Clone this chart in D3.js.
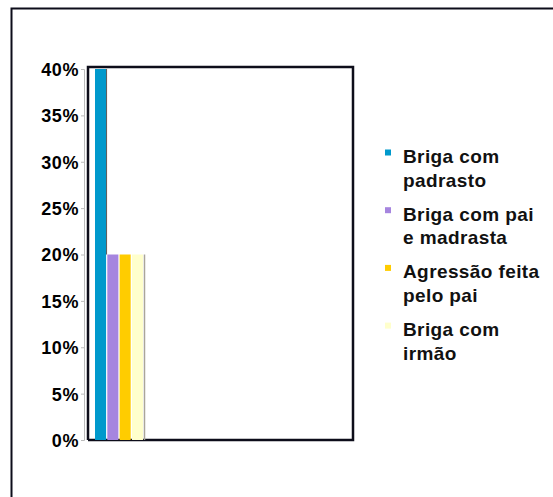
<!DOCTYPE html>
<html>
<head>
<meta charset="utf-8">
<script src="https://cdn.jsdelivr.net/npm/d3@7"></script>
<style>
  body { margin: 0; background: #fff; }
  text { font-family: "Liberation Sans", Arial, sans-serif; font-weight: bold; }
</style>
</head>
<body>
<div id="chartDiv"></div>
<script>
const categories = ['Briga com padrasto', 'Briga com pai e madrasta', 'Agressão feita pelo pai', 'Briga com irmão'];
const legendLines = [['Briga com', 'padrasto'], ['Briga com pai', 'e madrasta'], ['Agressão feita', 'pelo pai'], ['Briga com', 'irmão']];
const values = [0.40, 0.20, 0.20, 0.20];
const colors = ['#0099cc', '#a685df', '#ffcc00', '#ffffcc'];
const tickValues = [0, 0.05, 0.10, 0.15, 0.20, 0.25, 0.30, 0.35, 0.40];

const width = 553, height = 497;

const svg = d3.create("svg")
    .attr("width", width)
    .attr("height", height);

// outer border (continues beyond the picture)
svg.append("rect")
    .attr("x", 11.5).attr("y", 8.5)
    .attr("width", 600).attr("height", 600)
    .attr("fill", "none")
    .attr("stroke", "#0d0d1a")
    .attr("stroke-width", 2);

const y = d3.scaleLinear().domain([0, 0.4]).range([440, 69]);
const x = d3.scaleBand().domain(categories).range([95, 143]).paddingInner(0.1);

// plot frame
const frame = svg.append("g").attr("stroke", "#0d0d1a").attr("stroke-width", 2.5).attr("fill", "none");
frame.append("path").attr("d", `M88,${y(0)}V67H353V${y(0)}H88`);

// axis
svg.append("g")
    .attr("transform", "translate(84,0)")
    .call(d3.axisLeft(y).tickValues(tickValues).tickFormat(d3.format(".0%")).tickSize(3).tickPadding(2))
    .call(g => g.select(".domain").attr("stroke", "#bbb"))
    .call(g => g.selectAll(".tick line").attr("stroke", "#bbb"))
    .call(g => g.selectAll(".tick text")
        .attr("font-size", 18).attr("fill", "#000").attr("dy", "0.36em")
        .attr("letter-spacing", 0.6));

// bars
svg.append("g")
    .selectAll("rect")
    .data(values)
    .join("rect")
    .attr("x", (d, i) => x(categories[i]))
    .attr("y", d => y(d))
    .attr("width", x.bandwidth())
    .attr("height", d => y(0) - y(d))
    .attr("fill", (d, i) => colors[i]);

// depth edges
svg.append("line")
    .attr("x1", x(categories[0]) + x.bandwidth() + 0.5).attr("x2", x(categories[0]) + x.bandwidth() + 0.5)
    .attr("y1", y(values[0])).attr("y2", y(values[1]))
    .attr("stroke", "#555").attr("stroke-width", 1);
svg.append("line")
    .attr("x1", 144.5).attr("x2", 144.5)
    .attr("y1", y(values[3])).attr("y2", y(0))
    .attr("stroke", "#aaa59a").attr("stroke-width", 1.5);

// legend
const legend = svg.append("g")
    .selectAll("g")
    .data(legendLines)
    .join("g")
    .attr("transform", (d, i) => `translate(385,${149.5 + i * 57.7})`);

legend.append("rect")
    .attr("x", 0).attr("y", 0)
    .attr("width", 6).attr("height", 6)
    .attr("fill", (d, i) => colors[i]);

legend.append("text")
    .attr("y", 13.5)
    .attr("font-size", 19)
    .attr("fill", "#111")
    .attr("letter-spacing", 0.4)
    .selectAll("tspan")
    .data(d => d)
    .join("tspan")
    .attr("x", 18)
    .attr("dy", (d, i) => i === 0 ? 0 : 23.5)
    .text(d => d);

document.getElementById("chartDiv").appendChild(svg.node());
</script>
</body>
</html>
